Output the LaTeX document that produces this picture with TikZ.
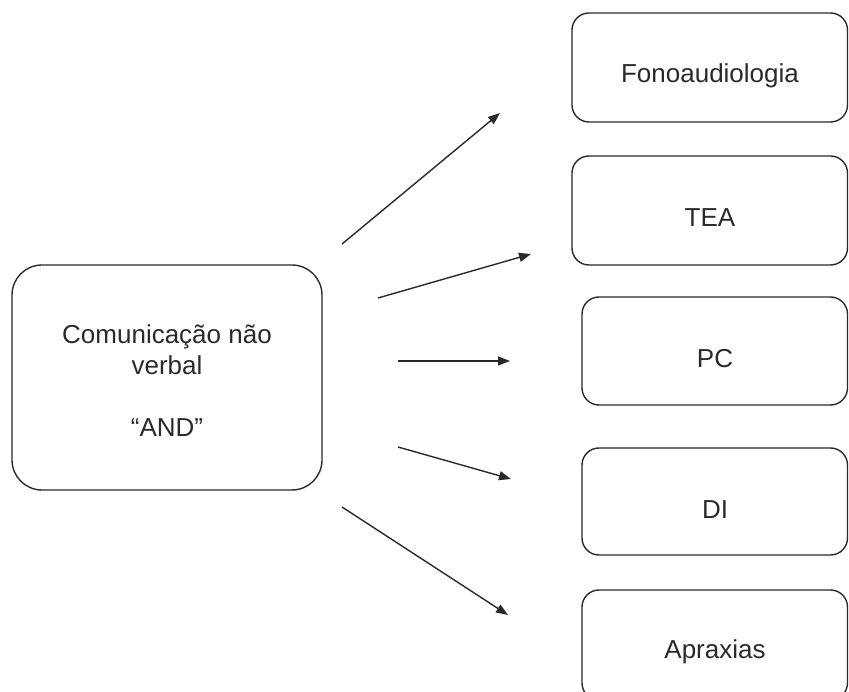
\documentclass[tikz,border=0pt]{standalone}
\usepackage{fontspec}
\setmainfont{Liberation Sans}
\usetikzlibrary{arrows.meta}
\definecolor{ink}{HTML}{2A2A2A}
\tikzset{
  box/.style={draw=ink, line width=1.4pt, rounded corners=17pt},
  bigbox/.style={draw=ink, line width=1.4pt, rounded corners=30pt},
  lbl/.style={font=\fontsize{26}{31}\selectfont, text=ink, align=center, inner sep=0pt},
  arr/.style={draw=ink, line width=1.4pt, -{Triangle[length=12pt,width=9pt]}}
}
\begin{document}
\begin{tikzpicture}[x=1pt,y=-1pt]
\useasboundingbox (0,0) rectangle (849,692);
% boxes
\draw[bigbox] (12,265) rectangle (322,490);
\node[lbl] (src) at (167,381) {Comunicação não\\verbal\\[31pt]“AND”};

\draw[box] (572,13) rectangle (847.5,122);
\node[lbl] (fono) at (710,76) {Fonoaudiologia};
\draw[box] (572,156) rectangle (847.5,265);
\node[lbl] (tea) at (710,218) {TEA};
\draw[box] (582,297) rectangle (847.5,405);
\node[lbl] (pc) at (715,359) {PC};
\draw[box] (582,448) rectangle (847.5,555);
\node[lbl] (di) at (715,510) {DI};
\draw[box] (582,590) rectangle (847.5,700);
\node[lbl] (apx) at (715,652) {Apraxias};

% arrow end points
\coordinate (a1s) at (342,244); \coordinate (a1e) at (500,113);
\coordinate (a2s) at (378,298); \coordinate (a2e) at (531,254);
\coordinate (a3s) at (398,361); \coordinate (a3e) at (510,361);
\coordinate (a4s) at (398,447); \coordinate (a4e) at (511,479);
\coordinate (a5s) at (342,507); \coordinate (a5e) at (508,615);

\draw[arr] (a1s) -- (a1e);
\draw[arr] (a2s) -- (a2e);
\draw[arr] (a3s) -- (a3e);
\draw[arr] (a4s) -- (a4e);
\draw[arr] (a5s) -- (a5e);
\end{tikzpicture}
\end{document}
